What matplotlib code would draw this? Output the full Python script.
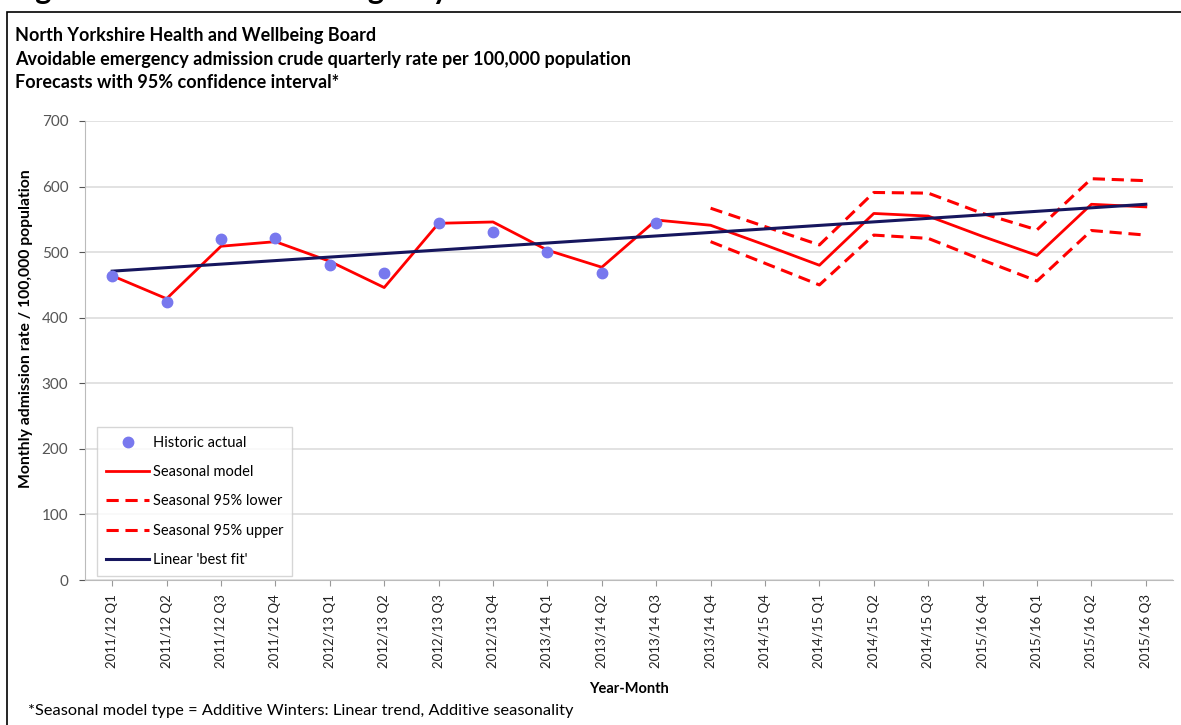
import numpy as np
import matplotlib
matplotlib.use('Agg')
import matplotlib.pyplot as plt
from matplotlib.patches import Rectangle

plt.rcParams['font.family'] = ['Lato', 'DejaVu Sans']

#%% data
quarters = ['2011/12 Q1', '2011/12 Q2', '2011/12 Q3', '2011/12 Q4',
            '2012/13 Q1', '2012/13 Q2', '2012/13 Q3', '2012/13 Q4',
            '2013/14 Q1', '2013/14 Q2', '2013/14 Q3', '2013/14 Q4',
            '2014/15 Q4', '2014/15 Q1', '2014/15 Q2', '2014/15 Q3',
            '2015/16 Q4', '2015/16 Q1', '2015/16 Q2', '2015/16 Q3']

historic = [464, 424, 520, 521, 480, 468, 545, 531, 500, 468, 545]

seasonal = [464, 429, 509, 516, 486, 446, 544, 546, 503, 477, 549,
            541, 511, 480, 559, 555, 524, 495, 573, 569]

# forecast bands start at 2013/14 Q4 (index 11)
band_start = 11
lower95 = [516, 483, 450, 526, 521, 488, 456, 533, 526]
upper95 = [567, 539, 511, 591, 590, 559, 534, 612, 609]

# linear best fit: value at first and last quarter
fit_ends = [471, 573]

#%% figure
W, H = 1181, 725
fig = plt.figure(figsize=(W / 100, H / 100), dpi=100)

# outer frame of the chart (cut off right and bottom)
fig.add_artist(Rectangle((7 / W, -0.05), 1.2, (H - 12) / H + 0.05,
                         transform=fig.transFigure, fill=False,
                         edgecolor='black', linewidth=1.2))

# page heading, only the descenders show at the top edge
fig.text(10 / W, 1 + 1 / H, 'Figure 10: Avoidable emergency admissions',
         fontsize=22, fontweight='bold', va='baseline', ha='left')

ax = fig.add_axes([85 / W, 1 - 580 / H, 1088 / W, 459 / H])

x = np.arange(len(quarters))
xb = x[band_start:]

ax.plot(x[:len(historic)], historic, 'o', color='#7878EE', markersize=7.5,
        zorder=5, label='Historic actual')
ax.plot(x, seasonal, '-', color='#FF0000', linewidth=2, label='Seasonal model', zorder=3)
ax.plot(xb, lower95, '--', color='#FF0000', linewidth=2.2, dashes=(4, 2.2),
        label='Seasonal 95% lower', zorder=3)
ax.plot(xb, upper95, '--', color='#FF0000', linewidth=2.2, dashes=(4, 2.2),
        label='Seasonal 95% upper', zorder=3)
ax.plot([x[0], x[-1]], fit_ends, '-', color='#16165E', linewidth=2.2,
        label="Linear 'best fit'", zorder=4)

ax.set_xlim(-0.5, len(quarters) - 0.5)
ax.set_ylim(0, 700)
ax.set_yticks(range(0, 701, 100))
ax.set_xticks(x)
ax.set_xticklabels(quarters, rotation=90, fontsize=9.5, color='#222222')
ax.tick_params(axis='y', labelsize=11, colors='#555555', length=4, pad=8)
ax.tick_params(axis='x', length=4, colors='#999999', labelcolor='#222222', pad=6)
ax.grid(axis='y', color='#DDDDDD', linewidth=1.2)
ax.set_axisbelow(True)
for side in ['top', 'right']:
    ax.spines[side].set_visible(False)
for side in ['left', 'bottom']:
    ax.spines[side].set_color('#BBBBBB')

ax.set_ylabel('Monthly admission rate / 100,000 population', fontsize=11.3,
              fontweight='bold')
ax.yaxis.set_label_coords(-(85 - 33) / 1088, 0.547)
ax.set_xlabel('Year-Month', fontsize=10.5, fontweight='bold', labelpad=10)

leg = ax.legend(loc='lower left', bbox_to_anchor=(0.011, 0.009), fontsize=10.5,
                frameon=True, fancybox=False, edgecolor='#CCCCCC',
                handlelength=3.0, handletextpad=0.25, labelspacing=1.05,
                borderpad=0.6, borderaxespad=0.0)
leg.get_frame().set_linewidth(1.0)

# titles
fig.text(15 / W, 1 - 36 / H, 'North Yorkshire Health and Wellbeing Board',
         fontsize=13, fontweight='bold', va='center')
fig.text(15 / W, 1 - 59 / H,
         'Avoidable emergency admission crude quarterly rate per 100,000 population',
         fontsize=13, fontweight='bold', va='center')
fig.text(15 / W, 1 - 82 / H, 'Forecasts with 95% confidence interval*',
         fontsize=13, fontweight='bold', va='center')

fig.text(28 / W, 1 - 711 / H,
         '*Seasonal model type = Additive Winters: Linear trend, Additive seasonality',
         fontsize=11.8, va='center')

fig.savefig('out.png', dpi=100)
